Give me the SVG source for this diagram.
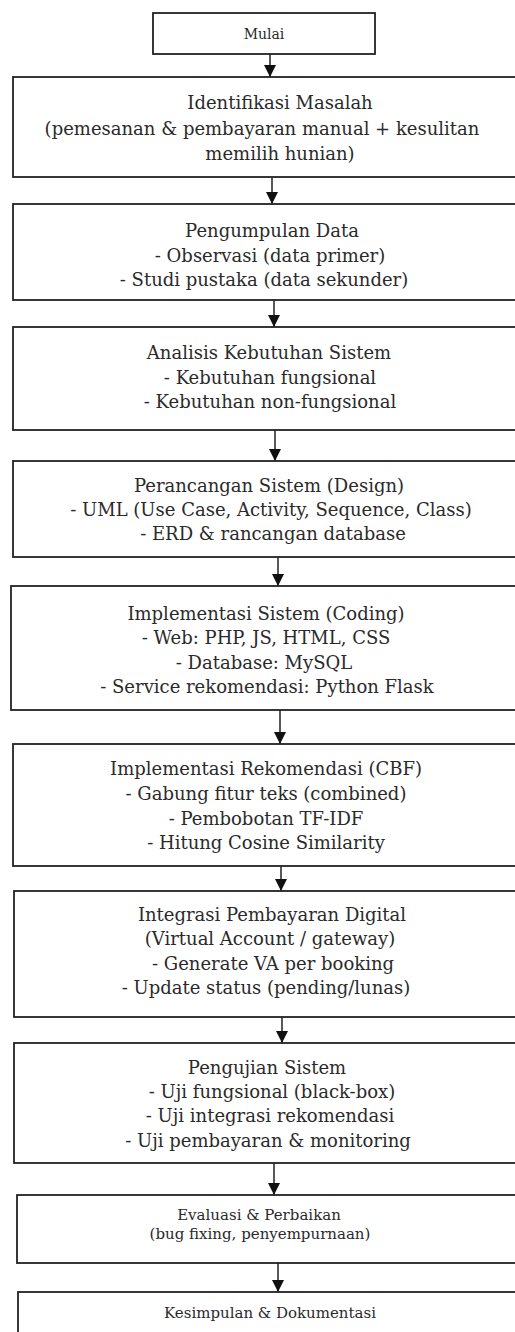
<svg xmlns="http://www.w3.org/2000/svg" width="515" height="1332" viewBox="0 0 515 1332">
<defs>
<style>
.box{fill:#fff;stroke:#222;stroke-width:1.8}
.t{font-family:"DejaVu Serif","Liberation Serif",serif;font-size:18px;fill:#2a2a2a;text-anchor:middle;dominant-baseline:central}
.s{font-size:14px}
.m{font-size:15px}
.edge{stroke:#222;stroke-width:1.5;fill:none;marker-end:url(#ah)}
</style>
<marker id="ah" viewBox="0 0 10 10" refX="10" refY="5" markerWidth="12" markerHeight="12" markerUnits="userSpaceOnUse" orient="auto">
<path d="M0,0 L10,5 L0,10 z" fill="#111"/>
</marker>
</defs>
<rect width="515" height="1332" fill="#fff"/>
<g id="connectors">
<line class="edge" x1="270" y1="54" x2="270" y2="77"/>
<line class="edge" x1="272" y1="177" x2="272" y2="204"/>
<line class="edge" x1="274" y1="300" x2="274" y2="327"/>
<line class="edge" x1="275" y1="430" x2="275" y2="461"/>
<line class="edge" x1="278" y1="557" x2="278" y2="586"/>
<line class="edge" x1="280" y1="710" x2="280" y2="744"/>
<line class="edge" x1="281" y1="866" x2="281" y2="891"/>
<line class="edge" x1="282" y1="1017" x2="282" y2="1043"/>
<line class="edge" x1="274" y1="1163" x2="274" y2="1195"/>
<line class="edge" x1="278" y1="1263" x2="278" y2="1292"/>
</g>
<g id="mulai">
<rect class="box" x="153" y="13" width="222" height="41"/>
<text class="t s" x="264" y="34">Mulai</text>
</g>
<g id="identifikasi">
<rect class="box" x="13" y="77" width="530" height="100"/>
<text class="t" x="280" y="102">Identifikasi Masalah</text>
<text class="t" x="262" y="128">(pemesanan &amp; pembayaran manual + kesulitan</text>
<text class="t" x="280" y="153">memilih hunian)</text>
</g>
<g id="pengumpulan">
<rect class="box" x="13" y="204" width="530" height="96"/>
<text class="t" x="272" y="230">Pengumpulan Data</text>
<text class="t" x="270" y="255">- Observasi (data primer)</text>
<text class="t" x="264" y="279">- Studi pustaka (data sekunder)</text>
</g>
<g id="analisis">
<rect class="box" x="13" y="327" width="530" height="103"/>
<text class="t" x="269" y="352">Analisis Kebutuhan Sistem</text>
<text class="t" x="270" y="377">- Kebutuhan fungsional</text>
<text class="t" x="270" y="401">- Kebutuhan non-fungsional</text>
</g>
<g id="perancangan">
<rect class="box" x="13" y="461" width="530" height="96"/>
<text class="t" x="269" y="485">Perancangan Sistem (Design)</text>
<text class="t" x="271" y="509">- UML (Use Case, Activity, Sequence, Class)</text>
<text class="t" x="273" y="533">- ERD &amp; rancangan database</text>
</g>
<g id="implementasi-sistem">
<rect class="box" x="11" y="586" width="530" height="124"/>
<text class="t" x="266" y="613">Implementasi Sistem (Coding)</text>
<text class="t" x="266" y="637">- Web: PHP, JS, HTML, CSS</text>
<text class="t" x="264" y="662">- Database: MySQL</text>
<text class="t" x="267" y="686">- Service rekomendasi: Python Flask</text>
</g>
<g id="implementasi-rekomendasi">
<rect class="box" x="13" y="744" width="530" height="122"/>
<text class="t" x="266" y="768">Implementasi Rekomendasi (CBF)</text>
<text class="t" x="266" y="793">- Gabung fitur teks (combined)</text>
<text class="t" x="266" y="818">- Pembobotan TF-IDF</text>
<text class="t" x="266" y="842">- Hitung Cosine Similarity</text>
</g>
<g id="integrasi">
<rect class="box" x="14" y="891" width="530" height="126"/>
<text class="t" x="272" y="914">Integrasi Pembayaran Digital</text>
<text class="t" x="270" y="938">(Virtual Account / gateway)</text>
<text class="t" x="273" y="963">- Generate VA per booking</text>
<text class="t" x="266" y="987">- Update status (pending/lunas)</text>
</g>
<g id="pengujian">
<rect class="box" x="14" y="1043" width="530" height="120"/>
<text class="t" x="267" y="1067">Pengujian Sistem</text>
<text class="t" x="272" y="1091">- Uji fungsional (black-box)</text>
<text class="t" x="270" y="1115">- Uji integrasi rekomendasi</text>
<text class="t" x="268" y="1140">- Uji pembayaran &amp; monitoring</text>
</g>
<g id="evaluasi">
<rect class="box" x="17" y="1195" width="530" height="68"/>
<text class="t m" x="259" y="1215">Evaluasi &amp; Perbaikan</text>
<text class="t m" x="260" y="1234">(bug fixing, penyempurnaan)</text>
</g>
<g id="kesimpulan">
<rect class="box" x="18" y="1292" width="530" height="60"/>
<text class="t m" x="270" y="1313">Kesimpulan &amp; Dokumentasi</text>
</g>
</svg>
